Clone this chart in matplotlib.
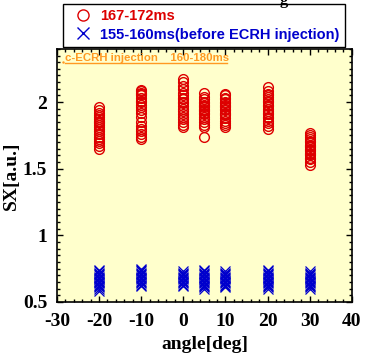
import matplotlib
matplotlib.use('Agg')
import matplotlib.pyplot as plt
from matplotlib.ticker import MultipleLocator

# angles [deg]
angles = [-20, -10, 0, 5, 10, 20, 30]

# SX during ECRH, 167-172ms (red circles), one list per angle
sx_on_m20 = [1.96, 1.94, 1.92, 1.90, 1.89, 1.87, 1.86, 1.85, 1.84, 1.83, 1.81, 1.80, 1.78, 1.76, 1.74, 1.72, 1.71, 1.69, 1.67, 1.65]
sx_on_m10 = [2.09, 2.08, 2.07, 2.06, 2.05, 2.03, 2.01, 2.00, 1.98, 1.96, 1.94, 1.92, 1.89, 1.85, 1.82, 1.80, 1.78, 1.76, 1.74, 1.72]
sx_on_0 = [2.17, 2.15, 2.12, 2.10, 2.07, 2.05, 2.03, 2.02, 2.00, 1.99, 1.97, 1.95, 1.93, 1.91, 1.89, 1.87, 1.85, 1.83, 1.81]
sx_on_5 = [2.07, 2.04, 2.02, 2.00, 1.99, 1.98, 1.97, 1.96, 1.95, 1.94, 1.93, 1.92, 1.91, 1.89, 1.87, 1.85, 1.83, 1.81, 1.74]
sx_on_10 = [2.06, 2.05, 2.03, 2.02, 2.00, 1.99, 1.98, 1.97, 1.96, 1.95, 1.94, 1.92, 1.91, 1.90, 1.88, 1.86, 1.84, 1.83, 1.81]
sx_on_20 = [2.11, 2.08, 2.06, 2.05, 2.04, 2.02, 2.01, 2.00, 1.98, 1.97, 1.95, 1.93, 1.92, 1.91, 1.89, 1.88, 1.86, 1.84, 1.82, 1.80]
sx_on_30 = [1.77, 1.75, 1.74, 1.72, 1.71, 1.70, 1.68, 1.67, 1.66, 1.65, 1.64, 1.63, 1.62, 1.61, 1.60, 1.58, 1.57, 1.55, 1.53]

# SX before ECRH, 155-160ms (blue crosses)
sx_off_m20 = [0.74, 0.73, 0.72, 0.71, 0.70, 0.69, 0.68, 0.67, 0.66, 0.65, 0.64, 0.63, 0.62, 0.61, 0.60, 0.58]
sx_off_m10 = [0.75, 0.74, 0.73, 0.72, 0.71, 0.70, 0.69, 0.68, 0.67, 0.66, 0.65, 0.64, 0.63, 0.62]
sx_off_0 = [0.73, 0.72, 0.71, 0.70, 0.69, 0.68, 0.67, 0.66, 0.65, 0.64, 0.63, 0.62]
sx_off_5 = [0.74, 0.73, 0.72, 0.71, 0.70, 0.69, 0.68, 0.67, 0.66, 0.65, 0.64, 0.63, 0.62, 0.61, 0.60]
sx_off_10 = [0.73, 0.72, 0.71, 0.70, 0.69, 0.68, 0.67, 0.66, 0.65, 0.64, 0.63, 0.62, 0.61]
sx_off_20 = [0.74, 0.73, 0.72, 0.71, 0.70, 0.69, 0.68, 0.67, 0.66, 0.65, 0.64, 0.63, 0.62, 0.61, 0.60]
sx_off_30 = [0.73, 0.72, 0.71, 0.70, 0.69, 0.68, 0.67, 0.66, 0.65, 0.64, 0.63, 0.62, 0.61, 0.60]

sx_on = [sx_on_m20, sx_on_m10, sx_on_0, sx_on_5, sx_on_10, sx_on_20, sx_on_30]
sx_off = [sx_off_m20, sx_off_m10, sx_off_0, sx_off_5, sx_off_10, sx_off_20, sx_off_30]

red = '#dd0000'
blue = '#0000cc'
orange = '#ff9922'
serif = 'Liberation Serif'

fig = plt.figure(figsize=(3.65, 3.54), dpi=100)
ax = fig.add_axes([0.156, 0.147, 0.808, 0.715])
ax.set_facecolor('#ffffcc')

for a, ys in zip(angles, sx_on):
    ax.plot([a] * len(ys), ys, 'o', mfc='none', mec=red, ms=7, mew=1.0, ls='none')
for a, ys in zip(angles, sx_off):
    ax.plot([a] * len(ys), ys, 'x', color=blue, ms=6.5, mew=0.9, ls='none')

ax.set_xlim(-30, 40)
ax.set_ylim(0.5, 2.4)
ax.xaxis.set_minor_locator(MultipleLocator(2))
ax.yaxis.set_minor_locator(MultipleLocator(0.05))
ax.tick_params(which='both', direction='in', top=True, right=True, width=1.0)
ax.tick_params(which='major', length=4)
ax.tick_params(which='minor', length=2.5)
ax.tick_params(axis='y', pad=7)
ax.tick_params(axis='x', pad=8)
ax.set_yticks([0.5, 1, 1.5, 2])
ax.set_yticklabels(['0.5', '1', '1.5', '2'], fontfamily=serif, fontweight='bold', fontsize=14)
ax.set_xticks([-30, -20, -10, 0, 10, 20, 30, 40])
ax.set_xticklabels(['-30', '-20', '-10', '0', '10', '20', '30', '40'], fontfamily=serif, fontweight='bold', fontsize=14)
for s in ax.spines.values():
    s.set_linewidth(1.2)

ax.set_xlabel('angle[deg]', fontfamily=serif, fontweight='bold', fontsize=14, labelpad=4)
ax.set_ylabel('SX[a.u.]', fontfamily=serif, fontweight='bold', fontsize=14, labelpad=2)

# ECRH window note
ax.text(0.027, 0.982, 'c-ECRH injection    160-180ms', transform=ax.transAxes,
        color=orange, fontfamily='Liberation Sans', fontweight='bold', fontsize=8.2, va='top',
        zorder=5)
ax.plot([0.027, 0.578], [0.945, 0.945], transform=ax.transAxes, color=orange, lw=1.0)
ax.plot([-28.5], [2.3], '.', color=orange, ms=1.5)

# cut-off title fragment at the top edge
fig.text(0.767, 1.0, 'g', fontfamily=serif, fontweight='bold', fontsize=12, va='center')

# legend above the axes
h1, = ax.plot([], [], 'o', mfc='none', mec=red, ms=8, mew=1.0)
h2, = ax.plot([], [], 'x', color=blue, ms=9, mew=1.0)
leg = ax.legend([h1, h2], ['167-172ms', '155-160ms(before ECRH injection)'],
                loc='lower left', bbox_to_anchor=(0.02, 1.007, 0.956, 0.17), mode='expand',
                fancybox=False, framealpha=1, edgecolor='black', borderpad=0.38,
                handlelength=2.0, handletextpad=0.2, labelspacing=0.28, borderaxespad=0,
                prop={'family': 'Liberation Sans', 'weight': 'bold', 'size': 10.5})
leg.get_frame().set_linewidth(1.0)
leg.get_texts()[0].set_color(red)
leg.get_texts()[1].set_color(blue)

fig.savefig('out.png', dpi=100)
